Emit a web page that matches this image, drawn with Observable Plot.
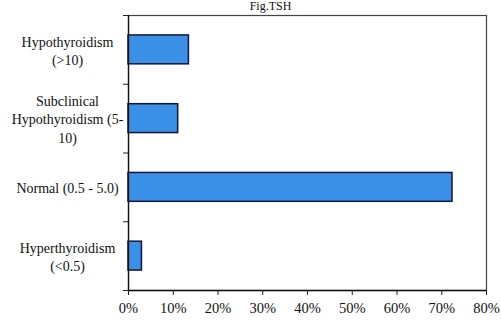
<!DOCTYPE html>
<html>
<head>
<meta charset="utf-8">
<script src="https://cdn.jsdelivr.net/npm/d3@7"></script>
<script src="https://cdn.jsdelivr.net/npm/@observablehq/plot@0.6"></script>
<style>
  html, body { margin: 0; padding: 0; background: #fff; }
</style>
</head>
<body>
<div id="chart"></div>
<script>
const title = "Fig.TSH";
const categories = [
  "Hypothyroidism\n(>10)",
  "Subclinical\nHypothyroidism (5-\n10)",
  "Normal (0.5 - 5.0)",
  "Hyperthyroidism\n(<0.5)"
];
const values = [13.5, 11.1, 72.4, 3.0];
const xTicks = [0, 10, 20, 30, 40, 50, 60, 70, 80];

const data = categories.map((c, i) => ({ label: c, value: values[i], i }));
const boundaries = d3.range(categories.length + 1);

const chart = Plot.plot({
  width: 501,
  height: 320,
  marginLeft: 128,
  marginRight: 15,
  marginTop: 15,
  marginBottom: 30,
  style: { fontFamily: "'Liberation Serif', 'Times New Roman', serif", background: "#fff", color: "#111" },
  x: { type: "linear", domain: [0, 80] },
  y: { type: "linear", domain: [0, categories.length], reverse: true },
  marks: [
    Plot.frame({ stroke: "#444", strokeWidth: 1.2 }),
    Plot.rectX(data, {
      x1: 0,
      x2: "value",
      y1: d => d.i + 0.29,
      y2: d => d.i + 0.71,
      fill: "#3a8fe6",
      stroke: "#14163a",
      strokeWidth: 1.5
    }),
    Plot.ruleX([0], { stroke: "#111", strokeWidth: 1.3 }),
    Plot.ruleY([categories.length], { stroke: "#111", strokeWidth: 1.3 }),
    Plot.axisY({ ticks: boundaries, tickSize: 5, tickFormat: () => "", stroke: "#222", label: null }),
    Plot.text(data, {
      x: 0,
      y: d => d.i + 0.5,
      text: "label",
      textAnchor: "middle",
      dx: -61,
      fontSize: 14,
      lineHeight: 1.3,
      fill: "#111"
    }),
    Plot.axisX({
      ticks: xTicks,
      tickFormat: d => d + "%",
      tickSize: 5,
      tickPadding: 7,
      fontSize: 14.5,
      label: null,
      stroke: "#222",
      fill: "#111"
    }),
    Plot.text([title], {
      frameAnchor: "top",
      dx: -37,
      dy: -14,
      lineAnchor: "top",
      fontSize: 12,
      fill: "#111"
    })
  ]
});

document.getElementById("chart").append(chart);
</script>
</body>
</html>
